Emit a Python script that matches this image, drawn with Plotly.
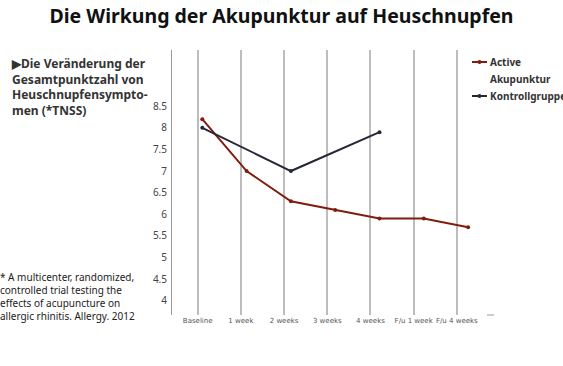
import plotly.graph_objects as go

categories = ["Baseline", "1 week", "2 weeks", "3 weeks", "4 weeks", "F/u 1 week", "F/u 4 weeks"]
active = [8.2, 7.0, 6.3, 6.1, 5.9, 5.9, 5.7]
control = [8.0, None, 7.0, None, 7.9, None, None]
y_ticks = [4, 4.5, 5, 5.5, 6, 6.5, 7, 7.5, 8, 8.5]
heading_lines = ["▶Die Veränderung der", "Gesamtpunktzahl von", "Heuschnupfensympto-", "men (*TNSS)"]
foot_lines = ["* A multicenter, randomized,", "controlled trial testing the",
              "effects of acupuncture on", "allergic rhinitis. Allergy. 2012"]

RED = "#7f1d0e"
NAVY = "#252838"
FONT = "Noto Sans"
PW, PH, L, T = 318, 265, 172, 50

xs = list(range(len(categories)))
grid_x = [i * 0.975 - 0.104 for i in xs]

fig = go.Figure()
fig.add_trace(go.Scatter(x=xs, y=active, mode="lines+markers", name="Active Akupunktur",
                         line=dict(color=RED, width=2), marker=dict(size=4, color=RED),
                         showlegend=False))
fig.add_trace(go.Scatter(x=xs, y=control, mode="lines+markers", name="Kontrollgruppe",
                         connectgaps=True,
                         line=dict(color=NAVY, width=2), marker=dict(size=4, color=NAVY),
                         showlegend=False))

fig.update_layout(
    width=563, height=366,
    margin=dict(l=L, r=563 - L - PW, t=T, b=366 - T - PH, autoexpand=False),
    paper_bgcolor="white", plot_bgcolor="white",
    font=dict(family=FONT, color="#333"),
    title=dict(text="<b>Die Wirkung der Akupunktur auf Heuschnupfen</b>",
               x=0.5, xanchor="center", y=1 - 16 / 366, yanchor="middle",
               font=dict(size=19.5, color="#111", family=FONT)),
)
fig.update_xaxes(range=[-0.684, 6.494], tickvals=grid_x, ticktext=categories,
                 showgrid=True, gridcolor="#bdbdbd", gridwidth=1.5,
                 zeroline=False, showline=False, ticks="", tickangle=0, automargin=False,
                 tickfont=dict(size=7, color="#555", family="DejaVu Sans"))
fig.update_yaxes(range=[3.67, 9.80], tickvals=y_ticks, ticktext=[f"{v:g}" for v in y_ticks],
                 showgrid=False, zeroline=False, showline=True, linecolor="#999", linewidth=1,
                 ticks="", ticklabelstandoff=2, automargin=False,
                 tickfont=dict(size=10, color="#444", family=FONT))


def px(x):
    return (x - L) / PW


def py(y):
    return 1 - (y - T) / PH


# small end dash at bottom right
fig.add_shape(type="line", xref="paper", yref="paper", x0=px(487), x1=px(494), y0=0, y1=0,
              line=dict(color="#999", width=1))


# legend drawn manually
def leg(yp, color):
    fig.add_shape(type="line", xref="paper", yref="paper", x0=px(472), x1=px(487),
                  y0=py(yp), y1=py(yp), line=dict(color=color, width=2))
    fig.add_shape(type="circle", xref="paper", yref="paper", x0=px(477.5), x1=px(481.5),
                  y0=py(yp + 2), y1=py(yp - 2), fillcolor=color, line=dict(color=color, width=0))


leg(62, RED)
leg(96, NAVY)
fig.add_annotation(xref="paper", yref="paper", x=px(488), y=py(62), xanchor="left", yanchor="middle",
                   text="<b>Active</b>", showarrow=False, font=dict(size=10, color="#333", family=FONT))
fig.add_annotation(xref="paper", yref="paper", x=px(488), y=py(79), xanchor="left", yanchor="middle",
                   text="<b>Akupunktur</b>", showarrow=False, font=dict(size=10, color="#333", family=FONT))
fig.add_annotation(xref="paper", yref="paper", x=px(488), y=py(96), xanchor="left", yanchor="middle",
                   text="<b>Kontrollgruppe</b>", showarrow=False, font=dict(size=10, color="#333", family=FONT))

# left heading
fig.add_annotation(xref="paper", yref="paper", x=px(9), y=py(53),
                   xanchor="left", yanchor="top", align="left", showarrow=False,
                   text="<b>" + "<br>".join(heading_lines) + "</b>",
                   font=dict(size=12, color="#333", family=FONT))

# footnote
fig.add_annotation(xref="paper", yref="paper", x=px(-2), y=py(268),
                   xanchor="left", yanchor="top", align="left", showarrow=False,
                   text="<br>".join(foot_lines),
                   font=dict(size=10, color="#222", family=FONT))

fig.write_html("out.html", config={"displayModeBar": False},
               post_script="document.body.style.margin='0';")
